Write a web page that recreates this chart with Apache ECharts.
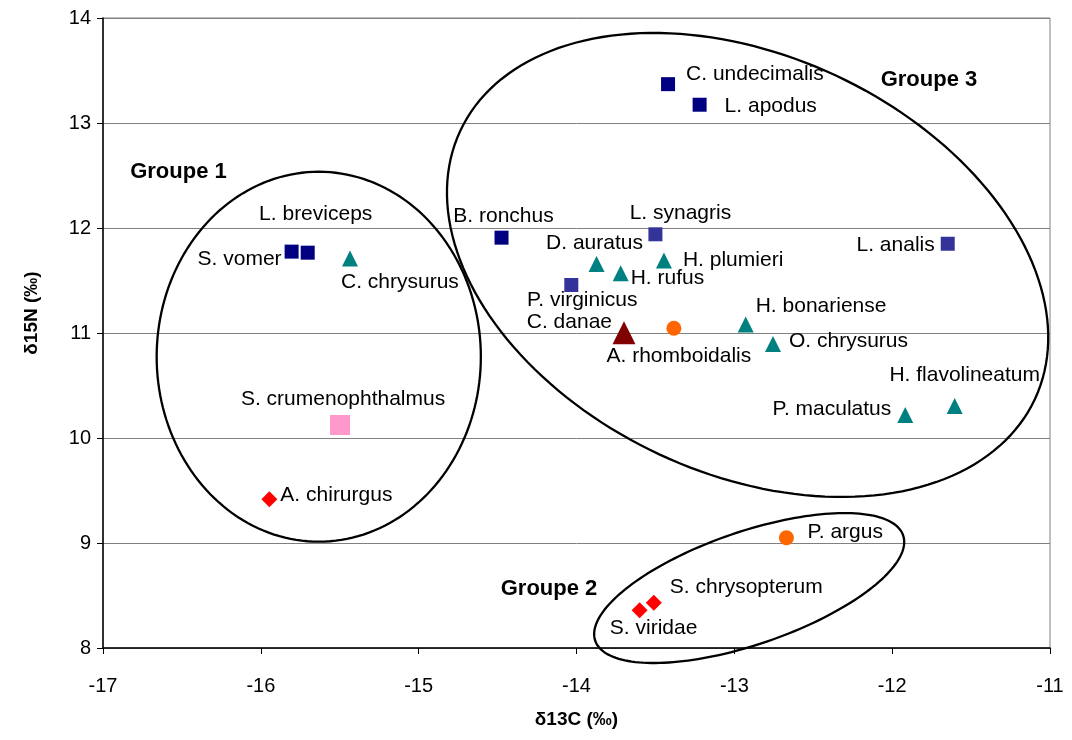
<!DOCTYPE html>
<html><head><meta charset="utf-8">
<script src="https://cdn.jsdelivr.net/npm/echarts/dist/echarts.min.js"></script>
<style>html,body{margin:0;padding:0;background:#fff}#c{width:1072px;height:740px}</style>
</head><body><div id="c"></div>
<script>
// ---- data ----
const species = ['S. vomer','L. breviceps','B. ronchus','C. undecimalis','L. apodus',
  'L. synagris','P. virginicus','L. analis',
  'C. chrysurus','D. auratus','H. rufus','H. plumieri','H. bonariense','O. chrysurus','P. maculatus','H. flavolineatum',
  'C. danae',
  'A. rhomboidalis','P. argus',
  'A. chirurgus','S. chrysopterum','S. viridae',
  'S. crumenophthalmus'];
const d13C = [-15.805,-15.703,-14.475,-13.42,-13.22,
  -13.50,-14.033,-11.648,
  -15.435,-13.873,-13.72,-13.446,-12.928,-12.755,-11.917,-11.604,
  -13.699,
  -13.383,-12.67,
  -15.946,-13.51,-13.60,
  -15.498];
const d15N = [11.775,11.765,11.908,13.37,13.174,
  11.94,11.457,11.85,
  11.71,11.657,11.568,11.69,11.08,10.895,10.219,10.305,
  11.003,
  11.045,9.05,
  9.416,8.43,8.36,
  10.124];
const markerGroup = ['navy','navy','navy','navy','navy',
  'blue','blue','blue',
  'teal','teal','teal','teal','teal','teal','teal','teal',
  'maroon',
  'orange','orange',
  'red','red','red',
  'pink'];
const groupNames = ['Groupe 1','Groupe 2','Groupe 3'];
const xTicks = [-17,-16,-15,-14,-13,-12,-11];
const yTicks = [8,9,10,11,12,13,14];

// ---- annotation geometry (ellipses & group titles), in data units ----
const ellipses = [
  // cx, cy, semi-axis a, semi-axis b (in x-axis units), rotation (deg, screen)
  [-15.633, 10.774, 1.027, 1.172, 0],
  [-12.906, 8.571, 1.031, 0.357, -18.9],
  [-12.916, 11.648, 2.009, 1.324, 25]
];
const groupTitlePos = [[-16.522, 12.533],[-14.174, 8.562],[-11.767, 13.41]];

// ---- styles ----
const markerStyles = {
  navy:   {symbol:'rect', size:14, color:'#000080'},
  blue:   {symbol:'rect', size:14, color:'#333399'},
  teal:   {symbol:'triangle', size:16, color:'#008080'},
  maroon: {symbol:'triangle', size:23, color:'#800000'},
  orange: {symbol:'circle', size:15, color:'#FF6600'},
  red:    {symbol:'diamond', size:16, color:'#FF0000'},
  pink:   {symbol:'rect', size:20, color:'#FF99CC'}
};
// label placement: [align, dx, dy] relative to the marker centre
const labelPlacement = {
  'S. vomer':['right',-10,8], 'L. breviceps':['center',8,-38], 'C. chrysurus':['left',-9,24],
  'S. crumenophthalmus':['center',3,-26], 'A. chirurgus':['left',11,-4], 'B. ronchus':['center',2,-21],
  'C. undecimalis':['left',18,-10], 'L. apodus':['left',25,1], 'L. synagris':['center',25,-21],
  'D. auratus':['center',-2,-21], 'H. plumieri':['left',19,0], 'H. rufus':['left',10,5],
  'P. virginicus':['center',11,15], 'C. danae':['right',-12,-10], 'A. rhomboidalis':['center',5,28],
  'H. bonariense':['left',10,-18], 'O. chrysurus':['left',16,-3], 'H. flavolineatum':['center',10,-31],
  'P. maculatus':['right',-14,-6], 'L. analis':['right',-13,1], 'P. argus':['left',21,-6],
  'S. chrysopterum':['left',16,-16], 'S. viridae':['center',14,18]
};
const FONT = "'Liberation Sans', Arial, sans-serif";

const chart = echarts.init(document.getElementById('c'));
const series = [];

series.push({
  type:'custom', name:'ellipses', clip:false, silent:true, z:1,
  data: ellipses,
  renderItem: function(params, api){
    const c = api.coord([api.value(0), api.value(1)]);
    const k = api.size([1,0])[0];
    const a = api.value(2)*k, b = api.value(3)*k, th = api.value(4)*Math.PI/180;
    const pts = [];
    for (let i=0;i<180;i++){
      const t = i/180*2*Math.PI;
      const ex = a*Math.cos(t), ey = b*Math.sin(t);
      pts.push([c[0]+ex*Math.cos(th)-ey*Math.sin(th), c[1]+ex*Math.sin(th)+ey*Math.cos(th)]);
    }
    return {type:'polygon', shape:{points:pts}, style:{fill:'none', stroke:'#000', lineWidth:2.3}};
  }
});

series.push({
  type:'custom', name:'groupTitles', clip:false, silent:true, z:4,
  data: groupTitlePos.map(function(p,i){ return {name:groupNames[i], value:p}; }),
  renderItem: function(params, api){
    const c = api.coord([api.value(0), api.value(1)]);
    return {type:'text', x:c[0], y:c[1], style:{text:groupNames[params.dataIndex], fill:'#000',
      font:'bold 22px ' + FONT, align:'center', verticalAlign:'middle'}};
  }
});

Object.keys(markerStyles).forEach(function(key){
  const st = markerStyles[key];
  const data = [];
  species.forEach(function(nm, i){
    if (markerGroup[i] !== key) return;
    const lp = labelPlacement[nm];
    data.push({
      name: nm, value:[d13C[i], d15N[i]],
      label:{show:true, position:[st.size/2 + lp[1], st.size/2 + lp[2]], formatter:nm,
        align:lp[0], verticalAlign:'middle'}
    });
  });
  series.push({
    type:'scatter', name:key, symbol:st.symbol, symbolSize:st.size, z:3,
    itemStyle:{color:st.color, opacity:1},
    label:{color:'#000', fontSize:21, fontFamily:FONT},
    labelLayout:{hideOverlap:false},
    emphasis:{disabled:true},
    data:data
  });
});

chart.setOption({
  animation:false,
  backgroundColor:'#fff',
  grid:{left:103, top:18, right:22, bottom:92, show:true, borderColor:'#808080', borderWidth:1},
  xAxis:{
    type:'value', min:xTicks[0], max:xTicks[xTicks.length-1], interval:1,
    name:'δ13C (‰)', nameLocation:'middle', nameGap:62,
    nameTextStyle:{fontSize:19, fontWeight:'bold', color:'#000', fontFamily:FONT},
    axisLine:{show:true, onZero:false, lineStyle:{color:'#000', width:1.5}},
    axisTick:{show:true, length:6, inside:false, lineStyle:{color:'#000'}},
    axisLabel:{color:'#000', fontSize:20, margin:28, fontFamily:FONT},
    splitLine:{show:false}
  },
  yAxis:{
    type:'value', min:yTicks[0], max:yTicks[yTicks.length-1], interval:1,
    name:'δ15N (‰)', nameLocation:'middle', nameGap:62,
    nameTextStyle:{fontSize:19, fontWeight:'bold', color:'#000', fontFamily:FONT, padding:[0,0,0,40]},
    axisLine:{show:true, onZero:false, lineStyle:{color:'#000', width:1.5}},
    axisTick:{show:true, length:6, inside:false, lineStyle:{color:'#000'}},
    axisLabel:{color:'#000', fontSize:20, margin:12, fontFamily:FONT},
    splitLine:{show:true, lineStyle:{color:'#808080', width:1}}
  },
  series:series
});
</script></body></html>
